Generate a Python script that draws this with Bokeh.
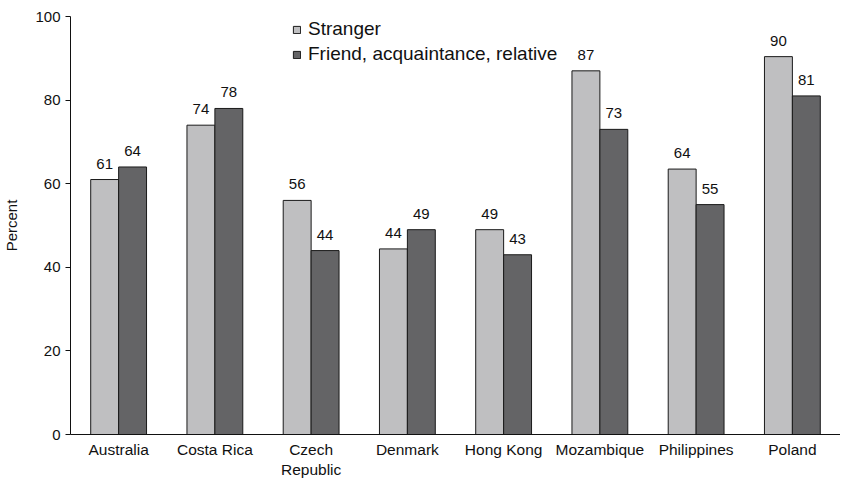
from bokeh.plotting import figure
from bokeh.models import ColumnDataSource, Legend, LegendItem, FixedTicker
from bokeh.transform import dodge
from bokeh.core.properties import value
from bokeh.embed import file_html
from bokeh.resources import INLINE

countries = ["Australia", "Costa Rica", "Czech\nRepublic", "Denmark", "Hong Kong",
             "Mozambique", "Philippines", "Poland"]
stranger = [61, 74, 56, 44.4, 49, 87, 63.5, 90.4]
friend = [64, 78, 44, 49, 43, 73, 55, 81]
stranger_labels = ["61", "74", "56", "44", "49", "87", "64", "90"]
friend_labels = ["64", "78", "44", "49", "43", "73", "55", "81"]
y_ticks = [0, 20, 40, 60, 80, 100]

src = ColumnDataSource(dict(x=countries, s=stranger, f=friend,
                            sl=stranger_labels, fl=friend_labels))

FONT = "Liberation Sans"
TXT = "#111111"
p = figure(x_range=countries, y_range=(0, 100), width=840, height=480,
           output_backend="svg", toolbar_location=None,
           min_border_left=64, min_border_right=0, min_border_top=16,
           min_border_bottom=44)
p.outline_line_color = None
p.xgrid.grid_line_color = None
p.ygrid.grid_line_color = None
p.x_range.range_padding = 0

w = 0.29
r1 = p.vbar(x=dodge("x", -w / 2, range=p.x_range), top="s", width=w, source=src,
            fill_color="#bfbfc1", line_color="#1a1a1a", line_width=1)
r2 = p.vbar(x=dodge("x", w / 2, range=p.x_range), top="f", width=w, source=src,
            fill_color="#646466", line_color="#1a1a1a", line_width=1)

p.text(x=dodge("x", -w / 2, range=p.x_range), y="s", text="sl", source=src,
       text_align="center", text_baseline="bottom", y_offset=-11,
       text_font=value(FONT), text_font_size="15px", text_color=TXT)
p.text(x=dodge("x", w / 2, range=p.x_range), y="f", text="fl", source=src,
       text_align="center", text_baseline="bottom", y_offset=-11,
       text_font=value(FONT), text_font_size="15px", text_color=TXT)

legend = Legend(items=[LegendItem(label="Stranger", renderers=[r1]),
                       LegendItem(label="Friend, acquaintance, relative", renderers=[r2])],
                location=(222, 369), border_line_color=None, background_fill_alpha=0,
                label_text_font=FONT, label_text_font_size="19px",
                glyph_width=9, glyph_height=9, spacing=3, padding=0,
                label_standoff=7, label_text_color=TXT)
p.add_layout(legend)

p.yaxis.ticker = FixedTicker(ticks=y_ticks)
p.yaxis.axis_label = "Percent"
p.yaxis.axis_label_text_font = FONT
p.yaxis.axis_label_text_font_style = "normal"
p.yaxis.axis_label_text_font_size = "15px"
p.yaxis.axis_label_text_color = TXT
p.yaxis.axis_label_standoff = 12
p.yaxis.major_tick_in = 0
p.yaxis.major_tick_out = 5
p.yaxis.minor_tick_line_color = None
p.yaxis.major_tick_line_color = TXT
p.yaxis.major_label_text_font_size = "15px"

p.xaxis.major_tick_line_color = None
p.xaxis.minor_tick_line_color = None
p.xaxis.major_label_standoff = 0
p.xaxis.major_label_text_font_size = "15.5px"

for ax in (p.xaxis, p.yaxis):
    ax.axis_line_color = TXT
    ax.major_label_text_font = FONT
    ax.major_label_text_color = TXT

open("out.html", "w").write(file_html(p, INLINE))
